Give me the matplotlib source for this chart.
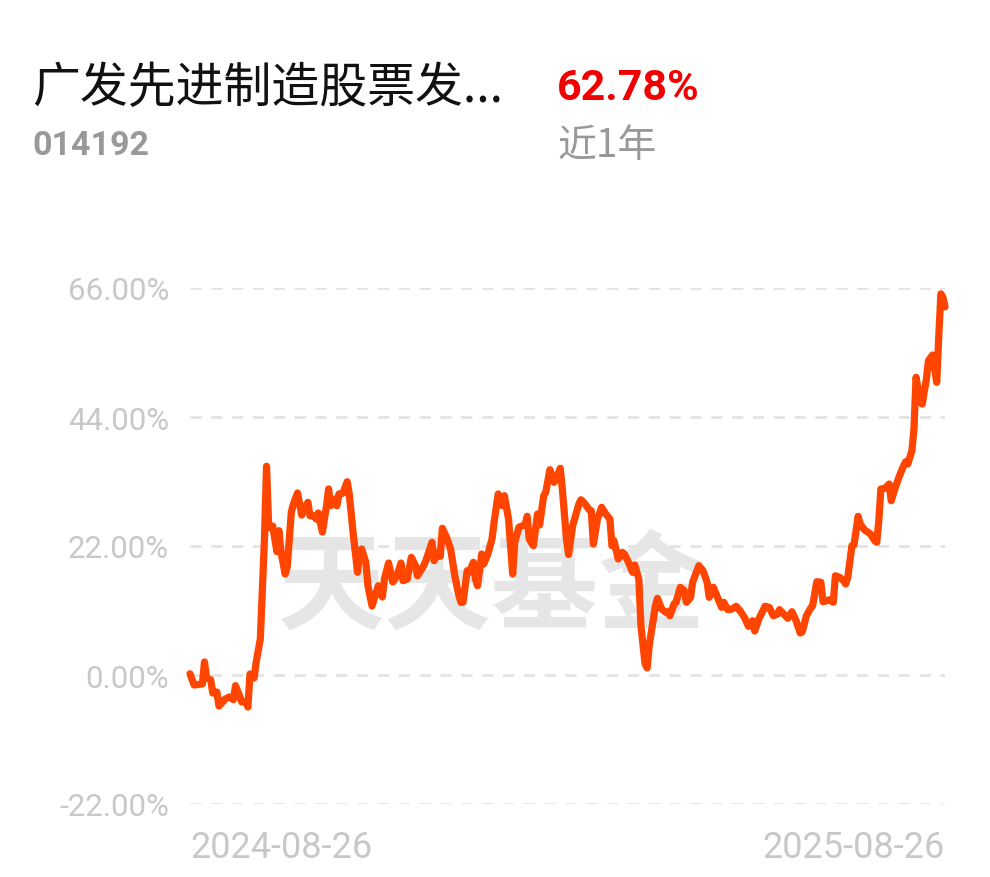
import numpy as np
import matplotlib.pyplot as plt

plt.rcParams['font.family'] = ['Noto Sans CJK SC', 'DejaVu Sans']

# 数据：距 2024-08-26 的天数 与 累计收益率(%)
days = [0, 2, 6, 7, 8, 10, 11, 13, 14, 17, 19, 21, 22, 24, 25, 27, 28, 29, 31, 32,
        34, 35, 36, 37, 38, 39, 40, 42, 43, 44, 46, 47, 49, 50, 52, 54, 56, 57, 58, 60,
        61, 62, 64, 66, 67, 68, 70, 71, 72, 74, 76, 77, 79, 81, 82, 83, 85, 86, 88, 91,
        93, 94, 96, 98, 100, 102, 103, 105, 107, 109, 110, 113, 114, 117, 118, 120, 121, 122, 124, 126,
        128, 130, 131, 132, 134, 135, 137, 138, 139, 141, 142, 144, 146, 147, 149, 151, 152, 154, 156, 157,
        159, 160, 162, 163, 164, 166, 168, 169, 171, 172, 174, 176, 177, 179, 180, 182, 183, 185, 188, 189,
        191, 193, 194, 195, 197, 199, 201, 203, 204, 205, 207, 209, 210, 212, 214, 215, 217, 218, 220, 221,
        222, 225, 226, 228, 230, 231, 232, 234, 235, 237, 239, 240, 242, 243, 246, 248, 250, 251, 253, 255,
        257, 258, 260, 262, 264, 266, 268, 270, 272, 273, 275, 278, 280, 282, 284, 285, 287, 289, 291, 293,
        295, 296, 298, 300, 301, 302, 303, 305, 306, 308, 309, 311, 312, 314, 316, 317, 318, 320, 321, 323,
        324, 326, 329, 331, 332, 333, 334, 336, 338, 339, 341, 343, 345, 346, 347, 349, 350, 351, 353, 354,
        356, 357, 359, 361, 362, 363, 364, 365]
returns = [0.2, -1.71, -1.53, 2.22, -0.51, -0.80, -3.07, -2.90, -5.29, -4.09, -3.75, -4.21, -1.82, -3.58, -4.60, -4.55, -5.46, 0.17, -0.51, 2.22,
           6.14, 14.67, 23.19, 35.6, 25.75, 25.07, 25.4, 21.03, 24.61, 20.98, 17.22, 18.42, 27.85, 29.16, 31.04, 27.28, 28.87, 29.45, 27.17, 27.11,
           26.6, 27.63, 24.39, 28.87, 31.72, 28.87, 30.01, 28.87, 30.87, 31.04, 32.96, 30.87, 23.75, 17.51, 20.98, 21.49, 19.22, 15.23, 11.77, 15.23,
           13.30, 16.37, 19.10, 15.86, 16.88, 19.10, 16.08, 16.37, 20.07, 18.64, 16.93, 18.64, 19.49, 22.63, 19.49, 20.92, 20.24, 25.02, 23.48, 21.49,
           16.93, 13.52, 12.40, 12.40, 17.79, 17.51, 19.22, 16.37, 15.23, 20.63, 18.93, 20.63, 23.19, 26.04, 30.87, 28.87, 30.58, 26.60, 17.22, 22.63,
           25.19, 25.36, 25.58, 27.06, 23.19, 22.05, 27.46, 25.58, 30.58, 31.16, 35.01, 32.86, 33.42, 35.25, 31.72, 23.19, 20.55, 25.46, 29.16, 29.89,
           29.16, 28.19, 28.02, 22.34, 26.60, 28.60, 27.46, 26.60, 22.05, 22.90, 19.78, 20.92, 20.63, 19.22, 17.51, 18.76, 16.37, 8.41, 1.9, 1.2,
           5.0, 11.82, 13.08, 11.25, 10.69, 10.79, 10.11, 12.11, 12.40, 14.96, 14.38, 12.40, 13.25, 15.81, 18.64, 17.79, 15.81, 13.25, 14.96, 13.25,
           11.54, 12.40, 11.14, 11.25, 11.72, 10.91, 9.84, 8.30, 9.26, 7.50, 9.55, 11.72, 11.54, 10.11, 10.40, 11.14, 10.40, 9.67, 10.79, 9.26,
           7.16, 7.38, 10.11, 11.37, 11.82, 13.81, 15.91, 15.81, 12.50, 12.67, 12.84, 12.40, 16.93, 16.66, 16.08, 15.52, 16.66, 22.05, 22.17, 27.06,
           25.75, 24.78, 24.04, 22.90, 22.63, 26.31, 31.72, 31.84, 32.57, 29.72, 32.01, 33.99, 35.69, 36.37, 35.98, 38.25, 41.95, 50.77, 46.50, 46.21,
           50.48, 53.60, 54.57, 49.91, 57.86, 65.0, 64.41, 62.78]

y_ticks = [66, 44, 22, 0, -22]
x_tick_days = [0, 365]
x_tick_labels = ['2024-08-26', '2025-08-26']

fund_name = '广发先进制造股票发...'
fund_code = '014192'
period_return = '62.78%'
period_label = '近1年'

line_color = '#FF4500'
tick_color = '#C8C8C8'
grid_color = '#E3E3E3'

fig = plt.figure(figsize=(9.9, 8.78), dpi=100)
ax = fig.add_axes([190 / 990, 73 / 878, 755 / 990, 516 / 878])

# 水印
ax.text(0.40, 0.417, '天天基金', transform=ax.transAxes, fontsize=77,
        fontweight='bold', color='#E6E6E6', ha='center', va='center',
        family=['Noto Sans CJK SC', 'DejaVu Sans'], zorder=0)

for v in y_ticks:
    ax.axhline(v, color=grid_color, lw=2, ls=(0, (4, 3.5)), zorder=1)

ax.plot(days, returns, color=line_color, lw=5.2, solid_joinstyle='round',
        solid_capstyle='round', clip_on=False, zorder=3)

ax.set_xlim(0, 365)
ax.set_ylim(-22, 66)
ax.set_yticks(y_ticks)
ax.set_yticklabels([f'{v:.2f}%' for v in y_ticks], family='Roboto',
                   fontsize=22.5, color=tick_color)
ax.set_xticks(x_tick_days)
ax.set_xticklabels(x_tick_labels, family='Roboto', fontsize=26, color=tick_color)
xl = ax.get_xticklabels()
xl[0].set_ha('left')
xl[1].set_ha('right')
ax.tick_params(axis='both', length=0)
ax.tick_params(axis='y', pad=15)
ax.tick_params(axis='x', pad=18)
for s in ax.spines.values():
    s.set_visible(False)

# 标题区
fig.text(32 / 990, 1 - 88 / 878, fund_name, fontsize=34.5, color='#111111',
         ha='left', va='center')
fig.text(557 / 990, 1 - 88 / 878, period_return, fontsize=31, color='#F00000',
         fontweight='bold', family='Roboto', ha='left', va='center')
fig.text(32 / 990, 1 - 146 / 878, fund_code, fontsize=24.5, color='#999999',
         fontweight='bold', family='Roboto', ha='left', va='center')
fig.text(557 / 990, 1 - 146 / 878, period_label, fontsize=28, color='#999999',
         ha='left', va='center')

fig.savefig('out.png', dpi=100, facecolor='white')
